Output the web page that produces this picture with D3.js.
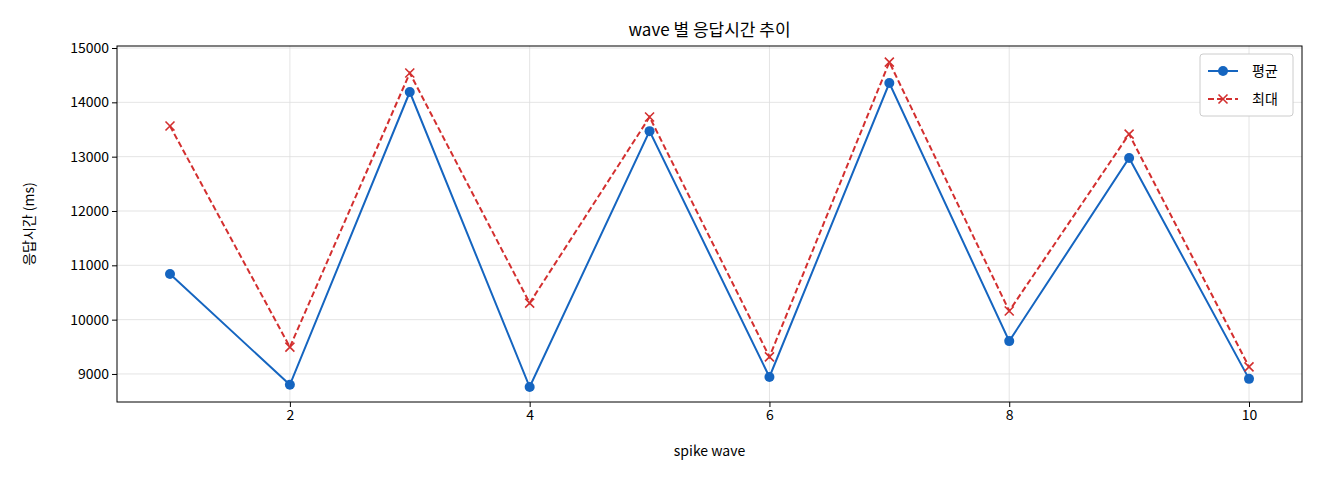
<!DOCTYPE html>
<html><head><meta charset="utf-8">
<script src="https://cdn.jsdelivr.net/npm/d3@7"></script>
<style>body{margin:0;background:#fff}text{font-family:"Noto Sans CJK KR","DejaVu Sans",sans-serif}</style>
</head><body><svg width="1320" height="480"></svg>
<script>
const waves = [1,2,3,4,5,6,7,8,9,10]
const avgMs = [10840,8800,14190,8760,13470,8945,14355,9605,12975,8910]
const maxMs = [13565,9495,14540,10305,13730,9315,14740,10160,13415,9130]
const xTicks = [2,4,6,8,10]
const yTicks = [9000,10000,11000,12000,13000,14000,15000]

const svg = d3.select("svg")
const L = 117, R = 1302, T = 46, B = 402
const x = d3.scaleLinear().domain([0.558, 10.442]).range([L, R])
const y = d3.scaleLinear().domain([8484, 15037]).range([B, T])

// grid
svg.append("g").selectAll("line").data(xTicks).join("line")
  .attr("x1", d => x(d)).attr("x2", d => x(d)).attr("y1", T).attr("y2", B)
  .attr("stroke", "#ddd").attr("stroke-width", 0.8)
svg.append("g").selectAll("line").data(yTicks).join("line")
  .attr("x1", L).attr("x2", R).attr("y1", d => y(d)).attr("y2", d => y(d))
  .attr("stroke", "#ddd").attr("stroke-width", 0.8)

svg.append("g").attr("transform", `translate(0,${B})`)
  .call(d3.axisBottom(x).tickValues(xTicks).tickSizeOuter(0).tickSize(5))
  .call(g => g.selectAll("text").attr("font-size", 14).attr("font-family", "DejaVu Sans").attr("fill", "#000"))
svg.append("g").attr("transform", `translate(${L},0)`)
  .call(d3.axisLeft(y).tickValues(yTicks).tickFormat(d3.format("d")).tickSizeOuter(0).tickSize(5))
  .call(g => g.selectAll("text").attr("font-size", 14).attr("font-family", "DejaVu Sans").attr("fill", "#000"))
svg.selectAll(".domain").remove()
svg.append("rect").attr("x", L).attr("y", T).attr("width", R - L).attr("height", B - T)
  .attr("fill", "none").attr("stroke", "#000").attr("stroke-width", 1)

const line = d3.line().x((d, i) => x(waves[i])).y(d => y(d))
svg.append("path").datum(maxMs).attr("d", line).attr("fill", "none")
  .attr("stroke", "#d32f2f").attr("stroke-width", 2).attr("stroke-dasharray", "6,3")
svg.append("path").datum(avgMs).attr("d", line).attr("fill", "none")
  .attr("stroke", "#1565c0").attr("stroke-width", 2)
svg.append("g").selectAll("circle").data(avgMs).join("circle")
  .attr("cx", (d, i) => x(waves[i])).attr("cy", d => y(d)).attr("r", 5).attr("fill", "#1565c0")
const cross = (g, cx, cy) => g.append("path")
  .attr("d", `M${cx-4.5},${cy-4.5}L${cx+4.5},${cy+4.5}M${cx-4.5},${cy+4.5}L${cx+4.5},${cy-4.5}`)
  .attr("stroke", "#d32f2f").attr("stroke-width", 1.6)
const mg = svg.append("g")
maxMs.forEach((d, i) => cross(mg, x(waves[i]), y(d)))

svg.append("text").attr("x", (L + R) / 2).attr("y", 36).attr("text-anchor", "middle")
  .attr("font-size", 17).text("wave 별 응답시간 추이")
svg.append("text").attr("x", (L + R) / 2).attr("y", 456).attr("text-anchor", "middle")
  .attr("font-size", 14).text("spike wave")
svg.append("text").attr("transform", `translate(34,${(T + B) / 2}) rotate(-90)`)
  .attr("text-anchor", "middle").attr("font-size", 14).text("응답시간 (ms)")

// legend
const lg = svg.append("g").attr("transform", "translate(1200,54)")
lg.append("rect").attr("width", 93).attr("height", 62).attr("rx", 3)
  .attr("fill", "#fff").attr("stroke", "#ccc")
lg.append("line").attr("x1", 8).attr("x2", 38).attr("y1", 17).attr("y2", 17).attr("stroke", "#1565c0").attr("stroke-width", 2)
lg.append("circle").attr("cx", 23).attr("cy", 17).attr("r", 5).attr("fill", "#1565c0")
lg.append("text").attr("x", 52).attr("y", 22).attr("font-size", 14).text("평균")
lg.append("line").attr("x1", 8).attr("x2", 38).attr("y1", 45).attr("y2", 45).attr("stroke", "#d32f2f").attr("stroke-width", 2).attr("stroke-dasharray", "6,3")
cross(lg, 23, 45)
lg.append("text").attr("x", 52).attr("y", 50).attr("font-size", 14).text("최대")
</script></body></html>
